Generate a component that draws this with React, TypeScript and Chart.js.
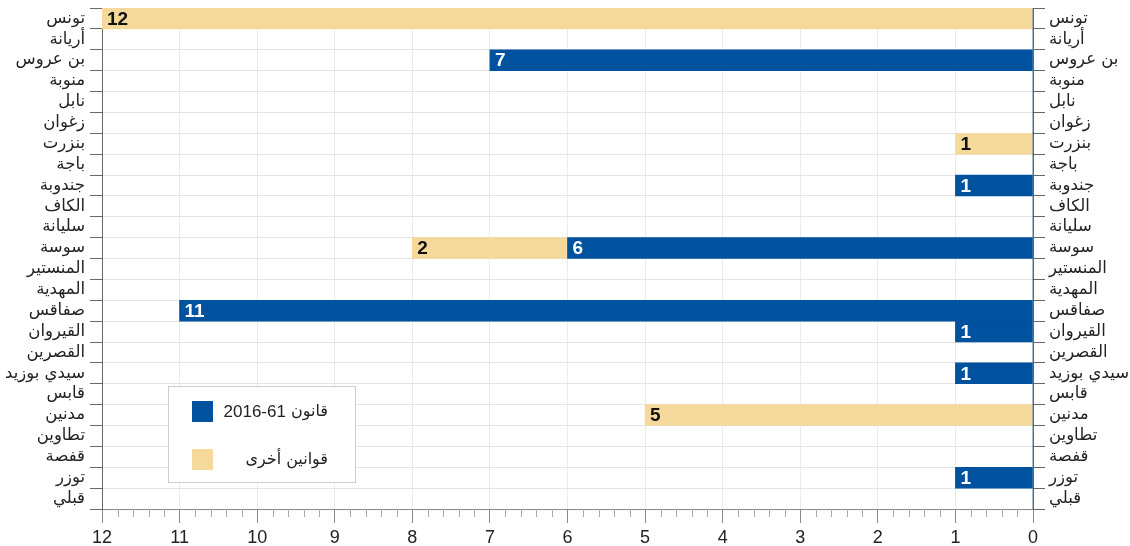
import React, { useEffect, useRef } from 'react';
import { Chart, registerables } from 'chart.js';

Chart.register(...registerables);

const categories = [
  'تونس', 'أريانة', 'بن عروس', 'منوبة', 'نابل', 'زغوان', 'بنزرت', 'باجة',
  'جندوبة', 'الكاف', 'سليانة', 'سوسة', 'المنستير', 'المهدية', 'صفاقس', 'القيروان',
  'القصرين', 'سيدي بوزيد', 'قابس', 'مدنين', 'تطاوين', 'قفصة', 'توزر', 'قبلي',
];
const law61 = [0, 0, 7, 0, 0, 0, 0, 0, 1, 0, 0, 6, 0, 0, 11, 1, 0, 1, 0, 0, 0, 0, 1, 0];
const otherLaws = [12, 0, 0, 0, 0, 0, 1, 0, 0, 0, 0, 2, 0, 0, 0, 0, 0, 0, 0, 5, 0, 0, 0, 0];
// legend names as [arabic word part, number part shown left of it]
const seriesNames = [['قانون', '2016-61'], ['قوانين أخرى', '']];
const seriesColors = ['#00519E', '#F4D99B'];
const labelColors = ['#ffffff', '#111111'];
const xMin = 0;
const xMax = 12;

const ARABIC_FONT = '"DejaVu Sans", "Noto Sans", sans-serif';
const NUM_FONT = '"Liberation Sans", Arial, sans-serif';

const minorTicksPlugin = {
  id: 'minorTicks',
  afterDraw(chart: any) {
    const x = chart.scales.x;
    const ctx = chart.ctx;
    ctx.save();
    ctx.strokeStyle = '#aaaaaa';
    ctx.lineWidth = 1;
    for (let i = 0; i <= xMax * 5; i++) {
      if (i % 5 === 0) continue;
      const px = Math.round(x.getPixelForValue(i / 5)) + 0.5;
      ctx.beginPath();
      ctx.moveTo(px, x.top);
      ctx.lineTo(px, x.top + 8);
      ctx.stroke();
    }
    ctx.restore();
  },
};

const barLabelsPlugin = {
  id: 'barLabels',
  afterDatasetsDraw(chart: any) {
    const ctx = chart.ctx;
    ctx.save();
    ctx.font = `bold 19px ${NUM_FONT}`;
    ctx.textAlign = 'left';
    ctx.textBaseline = 'middle';
    chart.data.datasets.forEach((ds: any, di: number) => {
      const meta = chart.getDatasetMeta(di);
      meta.data.forEach((el: any, i: number) => {
        const v = ds.data[i];
        if (!v) return;
        const left = Math.min(el.x, el.base);
        ctx.fillStyle = labelColors[di];
        ctx.fillText(String(v), left + 5, el.y + 1);
      });
    });
    ctx.restore();
  },
};

const legendPlugin = {
  id: 'boxLegend',
  afterDraw(chart: any) {
    const ctx = chart.ctx;
    ctx.save();
    const bx = 168.5, by = 386.5, bw = 187, bh = 96;
    ctx.fillStyle = '#ffffff';
    ctx.fillRect(bx, by, bw, bh);
    ctx.strokeStyle = '#cccccc';
    ctx.lineWidth = 1;
    ctx.strokeRect(bx, by, bw, bh);
    const rows = [411, 459];
    seriesNames.forEach((parts, i) => {
      ctx.fillStyle = seriesColors[i];
      ctx.fillRect(192, rows[i] - 10, 21, 21);
      ctx.fillStyle = '#222222';
      ctx.font = `16px ${ARABIC_FONT}`;
      ctx.textAlign = 'right';
      ctx.textBaseline = 'middle';
      ctx.direction = 'rtl';
      ctx.fillText(parts[0], 328, rows[i] + 1);
      if (parts[1]) {
        const w = ctx.measureText(parts[0]).width + ctx.measureText(' ').width;
        ctx.direction = 'ltr';
        ctx.textAlign = 'right';
        ctx.font = `17px ${NUM_FONT}`;
        ctx.fillText(parts[1], 328 - w, rows[i] + 1);
      }
    });
    ctx.restore();
  },
};

const noVPad = (w: number) => (s: any) => {
  s.width = w;
  s.paddingTop = 0;
  s.paddingBottom = 0;
};

export default function App() {
  const canvasRef = useRef<HTMLCanvasElement | null>(null);

  useEffect(() => {
    if (!canvasRef.current) return;
    const chart = new Chart(canvasRef.current, {
      type: 'bar',
      data: {
        labels: categories,
        datasets: [
          {
            label: seriesNames[0].join(' '),
            data: law61,
            backgroundColor: seriesColors[0],
            barPercentage: 1,
            categoryPercentage: 1,
            yAxisID: 'y',
          },
          {
            label: seriesNames[1][0],
            data: otherLaws,
            backgroundColor: seriesColors[1],
            barPercentage: 1,
            categoryPercentage: 1,
            yAxisID: 'y',
          },
        ],
      },
      options: {
        indexAxis: 'y',
        animation: false,
        responsive: true,
        maintainAspectRatio: false,
        devicePixelRatio: 1,
        layout: { padding: { top: 8, left: 0, right: 0, bottom: 0 } },
        plugins: {
          legend: { display: false },
          tooltip: { enabled: false },
        },
        scales: {
          x: {
            type: 'linear',
            reverse: true,
            min: xMin,
            max: xMax,
            stacked: true,
            position: 'bottom',
            afterFit: (s: any) => { s.height = 37; s.paddingLeft = 0; s.paddingRight = 0; },
            grid: {
              color: '#ebebeb',
              tickColor: '#888888',
              tickLength: 14,
            },
            border: { color: '#888888' },
            ticks: {
              stepSize: 1,
              padding: 4,
              color: '#222222',
              font: { family: NUM_FONT, size: 18 },
              maxRotation: 0,
            },
          },
          y: {
            type: 'category',
            position: 'left',
            stacked: true,
            offset: true,
            afterFit: noVPad(102),
            grid: {
              offset: true,
              color: '#e4e4e4',
              tickColor: '#666666',
              tickLength: 12,
            },
            border: { color: '#666666' },
            ticks: {
              padding: 5,
              color: '#222222',
              autoSkip: false,
              font: { family: ARABIC_FONT, size: 16.5 },
            },
          },
          y2: {
            type: 'category',
            position: 'right',
            labels: categories,
            offset: true,
            afterFit: noVPad(97),
            grid: {
              offset: true,
              drawOnChartArea: false,
              tickColor: '#666666',
              tickLength: 12,
            },
            border: { color: '#666666' },
            ticks: {
              padding: 4,
              color: '#222222',
              autoSkip: false,
              font: { family: ARABIC_FONT, size: 16.5 },
            },
          },
        },
      } as any,
      plugins: [minorTicksPlugin, barLabelsPlugin, legendPlugin],
    });
    return () => chart.destroy();
  }, []);

  return (
    <div style={{ position: 'absolute', left: 0, top: 0, width: 1130, height: 546, background: '#ffffff' }}>
      <canvas ref={canvasRef} />
    </div>
  );
}
